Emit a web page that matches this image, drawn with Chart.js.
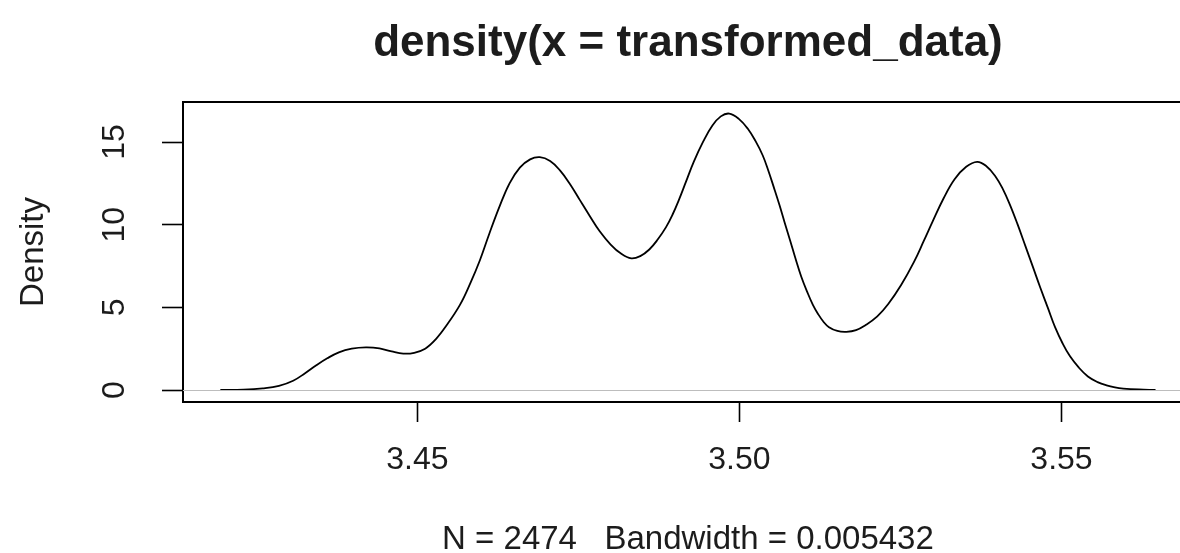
<!DOCTYPE html>
<html>
<head>
<meta charset="utf-8">
<script src="https://cdn.jsdelivr.net/npm/chart.js@4.4.1/dist/chart.umd.min.js"></script>
<style>
  html, body { margin: 0; padding: 0; background: #fff; }
  #wrap { width: 1180px; height: 553px; }
</style>
</head>
<body>
<div id="wrap"><canvas id="densidadChart" width="1180" height="553"></canvas></div>
<script>
const densX = [3.4194, 3.4230, 3.4260, 3.4285, 3.4307, 3.4325, 3.4343, 3.4360, 3.4378, 3.4398,
  3.4420, 3.4441, 3.4460, 3.4478, 3.4495, 3.4512, 3.4528, 3.4545, 3.4566, 3.4582,
  3.4597, 3.4612, 3.4628, 3.4643, 3.4659, 3.4675, 3.4690, 3.4706, 3.4721, 3.4737,
  3.4752, 3.4768, 3.4783, 3.4800, 3.4816, 3.4832, 3.4846, 3.4860, 3.4873, 3.4886,
  3.4896, 3.4906, 3.4917, 3.4929, 3.4944, 3.4958, 3.4971, 3.4984, 3.4999, 3.5013,
  3.5025, 3.5036, 3.5045, 3.5053, 3.5062, 3.5070, 3.5079, 3.5087, 3.5096, 3.5105,
  3.5114, 3.5122, 3.5131, 3.5139, 3.5152, 3.5166, 3.5181, 3.5196, 3.5214, 3.5231,
  3.5251, 3.5271, 3.5286, 3.5300, 3.5317, 3.5334, 3.5352, 3.5369, 3.5383, 3.5397,
  3.5409, 3.5420, 3.5432, 3.5444, 3.5456, 3.5467, 3.5479, 3.5490, 3.5502, 3.5513,
  3.5527, 3.5541, 3.5556, 3.5570, 3.5583, 3.5596, 3.5620, 3.5646];
const densY = [0.00, 0.02, 0.10, 0.25, 0.56, 1.00, 1.50, 1.92, 2.28, 2.50,
  2.58, 2.52, 2.33, 2.20, 2.25, 2.50, 3.05, 3.90, 5.15, 6.45,
  7.85, 9.50, 11.15, 12.50, 13.45, 13.95, 14.08, 13.85, 13.30, 12.45,
  11.50, 10.50, 9.60, 8.80, 8.25, 7.96, 8.10, 8.50, 9.10, 9.85,
  10.60, 11.50, 12.60, 13.80, 15.05, 16.00, 16.55, 16.72, 16.40, 15.80,
  15.05, 14.20, 13.25, 12.30, 11.20, 10.15, 9.00, 7.95, 6.85, 5.95,
  5.15, 4.60, 4.10, 3.80, 3.57, 3.52, 3.62, 3.93, 4.45, 5.20,
  6.35, 7.75, 9.00, 10.20, 11.60, 12.75, 13.50, 13.80, 13.55, 12.95,
  12.15, 11.20, 10.00, 8.70, 7.40, 6.20, 4.95, 3.80, 2.80, 2.05,
  1.35, 0.82, 0.48, 0.28, 0.16, 0.09, 0.03, 0.00];
const xTicks = [3.45, 3.50, 3.55];
const yTicks = [0, 5, 10, 15];

const titulo = 'density(x = transformed_data)';
const subtitulo = 'N = 2474   Bandwidth = 0.005432';
const etiquetaY = 'Density';

const fuente = "'Liberation Sans', Arial, sans-serif";
const colorTexto = '#1c1c1c';

// linea de cero gris encima de la curva, como abline(h = 0) en R
const lineaCero = {
    id: 'lineaCero',
    afterDatasetsDraw(chart) {
        const { ctx, chartArea, scales } = chart;
        const y0 = Math.round(scales.y.getPixelForValue(0)) + 0.5;
        ctx.save();
        ctx.strokeStyle = '#bdbdbd';
        ctx.lineWidth = 1.2;
        ctx.beginPath();
        ctx.moveTo(chartArea.left, y0);
        ctx.lineTo(chartArea.right, y0);
        ctx.stroke();
        ctx.restore();
    }
};

// marco superior y textos al estilo de plot() de R
const textosR = {
    id: 'textosR',
    afterDraw(chart) {
        const { ctx, chartArea, scales } = chart;
        const cx = scales.x.getPixelForValue((densX[0] + densX[densX.length - 1]) / 2);
        ctx.save();
        ctx.strokeStyle = '#000';
        ctx.lineWidth = 2;
        ctx.beginPath();
        ctx.moveTo(chartArea.left, chartArea.top);
        ctx.lineTo(chart.width + 5, chartArea.top);
        ctx.stroke();

        ctx.fillStyle = colorTexto;
        ctx.textAlign = 'center';
        ctx.textBaseline = 'alphabetic';
        ctx.font = `bold 44px ${fuente}`;
        ctx.fillText(titulo, cx, 56);
        ctx.font = `33px ${fuente}`;
        ctx.fillText(subtitulo, cx, 549);

        ctx.translate(43, (chartArea.top + chartArea.bottom) / 2);
        ctx.rotate(-Math.PI / 2);
        ctx.fillText(etiquetaY, 0, 0);
        ctx.restore();
    }
};

const ctx = document.getElementById('densidadChart').getContext('2d');
new Chart(ctx, {
    type: 'line',
    data: {
        datasets: [{
            data: densX.map((x, i) => ({ x, y: densY[i] })),
            borderColor: '#000',
            borderWidth: 1.8,
            pointRadius: 0,
            fill: false,
            tension: 0.4
        }]
    },
    options: {
        responsive: false,
        animation: false,
        devicePixelRatio: 1,
        layout: { padding: { top: 102, left: 0, right: 0, bottom: 0 } },
        plugins: { legend: { display: false }, tooltip: { enabled: false } },
        scales: {
            x: {
                type: 'linear',
                min: 3.4136,
                max: 3.5684,
                afterBuildTicks: s => { s.ticks = xTicks.map(v => ({ value: v })); },
                afterFit: s => { s.height = 151; },
                ticks: {
                    callback: v => v.toFixed(2),
                    font: { family: fuente, size: 32 },
                    color: colorTexto,
                    padding: 19,
                    maxRotation: 0,
                    autoSkip: false
                },
                grid: { drawOnChartArea: false, drawTicks: true, tickLength: 20, tickColor: '#000', tickWidth: 1.6 },
                border: { display: true, color: '#000', width: 2 }
            },
            y: {
                min: -0.725,
                max: 17.42,
                afterBuildTicks: s => { s.ticks = yTicks.map(v => ({ value: v })); },
                afterFit: s => { s.width = 183; },
                ticks: {
                    callback: v => String(v),
                    font: { family: fuente, size: 32 },
                    color: colorTexto,
                    minRotation: 90,
                    maxRotation: 90,
                    crossAlign: 'center',
                    padding: 29,
                    autoSkip: false
                },
                grid: {
                    drawOnChartArea: false,
                    drawTicks: true,
                    tickLength: 21,
                    tickColor: '#000',
                    tickWidth: 1.6
                },
                border: { display: true, color: '#000', width: 2 }
            }
        }
    },
    plugins: [lineaCero, textosR]
});
</script>
</body>
</html>
